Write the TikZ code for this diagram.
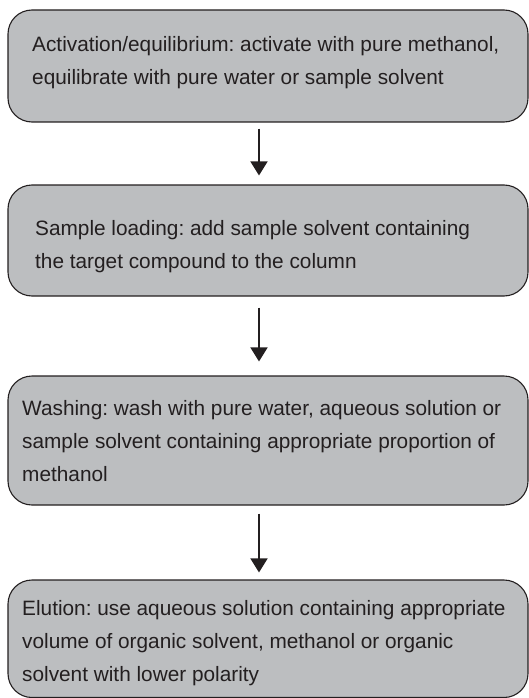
\documentclass[tikz,border=0pt]{standalone}
\usepackage{fontspec}
\setmainfont{Liberation Sans}
\usetikzlibrary{arrows.meta}
\definecolor{boxfill}{HTML}{BCBEC0}
\definecolor{ink}{HTML}{231F20}
\frenchspacing
\tikzset{
  stepbox/.style={draw=ink, fill=boxfill, line width=1.1pt, rounded corners=24pt, inner sep=0pt, minimum width=520pt},
  steptext/.style={anchor=base west, inner sep=0pt, text=ink, align=left, font=\fontsize{20.8}{33}\selectfont},
  flow/.style={draw=ink, line width=1.6pt, -{Triangle[width=17pt,length=14pt]}}
}
\begin{document}
\begin{tikzpicture}[x=1pt,y=-1pt]
\useasboundingbox (0,0) rectangle (529,698);
% boxes
\node[stepbox, minimum height=112pt] (b1) at (268,66) {};
\node[stepbox, minimum height=111pt] (b2) at (268,240.5) {};
\node[stepbox, minimum height=129pt] (b3) at (268,440.5) {};
\node[stepbox, minimum height=117.5pt] (b4) at (268,638.75) {};
% texts (anchor = baseline of last line)
\node[steptext] (t1) at (32,85) {Activation/equilibrium: activate with pure methanol,\\equilibrate with pure water or sample solvent};
\node[steptext] (t2) at (35,268) {Sample loading: add sample solvent containing\\the target compound to the column};
\node[steptext] (t3) at (22,481) {Washing: wash with pure water, aqueous solution or\\sample solvent containing appropriate proportion of\\methanol};
\node[steptext] (t4) at (22,681) {Elution: use aqueous solution containing appropriate\\volume of organic solvent, methanol or organic\\solvent with lower polarity};
% arrows
\draw[flow] ([xshift=-9pt,yshift=-6pt]b1.south) -- ([xshift=-9pt,yshift=9pt]b2.north);
\draw[flow] ([xshift=-9pt,yshift=-11pt]b2.south) -- ([xshift=-9pt,yshift=14pt]b3.north);
\draw[flow] ([xshift=-9pt,yshift=-8pt]b3.south) -- ([xshift=-9pt,yshift=7pt]b4.north);
\end{tikzpicture}
\end{document}
